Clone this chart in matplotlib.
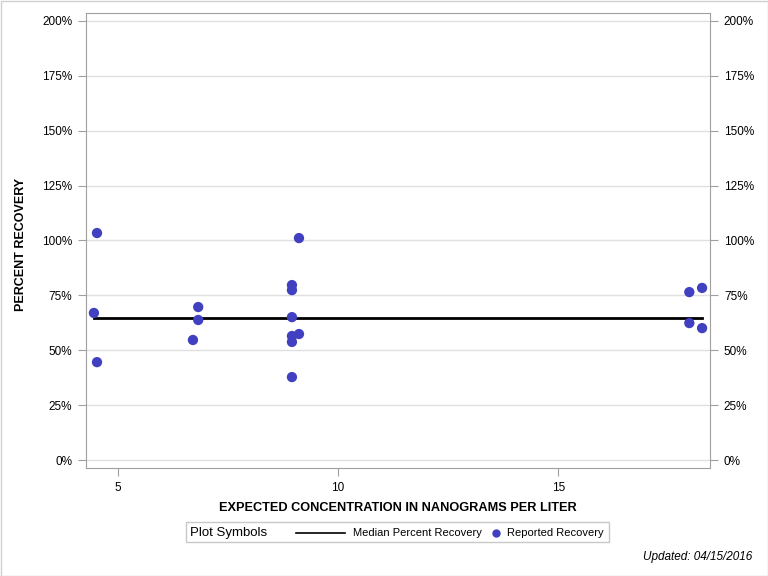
import matplotlib
matplotlib.use("Agg")
import matplotlib.pyplot as plt
from matplotlib.ticker import FuncFormatter, FixedLocator
from matplotlib.lines import Line2D
import matplotlib.patches as mpatches

# Data
conc = [4.45, 4.52, 4.52, 6.70, 6.82, 6.82, 8.95, 8.95, 8.95, 8.95, 8.95, 8.95,
        9.11, 9.11, 17.98, 18.27, 17.98, 18.27]
recovery = [67.0, 103.4, 44.6, 54.7, 69.7, 63.8, 79.7, 77.4, 65.1, 56.5, 53.8, 37.8,
            57.4, 101.1, 76.5, 78.4, 62.4, 60.1]
median_x = [4.45, 18.27]
median_y = [64.7, 64.7]
x_ticks = [5, 10, 15]
y_ticks = [0, 25, 50, 75, 100, 125, 150, 175, 200]

plt.rcParams['font.family'] = ['Liberation Sans', 'DejaVu Sans']

fig = plt.figure(figsize=(7.68, 5.76), dpi=100)
W, H = 768, 576
ax = fig.add_axes([86 / W, 1 - 468 / H, (710 - 86) / W, (468 - 13) / H])

ax.set_xlim(4.27, 18.45)
ax.set_ylim(-3.6, 203.6)

ax.yaxis.set_major_locator(FixedLocator(y_ticks))
ax.xaxis.set_major_locator(FixedLocator(x_ticks))
ax.yaxis.set_major_formatter(FuncFormatter(lambda v, p: f"{int(v)}%"))
ax.grid(axis='y', color='#e0e0e0', linewidth=1)
ax.set_axisbelow(True)

ax.plot(median_x, median_y, color='black', linewidth=2, zorder=2)
ax.scatter(conc, recovery, s=55, color='#4040c0', edgecolors='none', zorder=3)

for s in ax.spines.values():
    s.set_color('#a0a0a0')
ax.tick_params(axis='both', colors='#a0a0a0', labelcolor='black', labelsize=8.5, length=6, pad=4)
ax.tick_params(axis='y', right=True, labelright=True)

ax.set_xlabel("EXPECTED CONCENTRATION IN NANOGRAMS PER LITER", fontsize=9.2, fontweight='bold', labelpad=6)
ax.set_ylabel("PERCENT RECOVERY", fontsize=9.0, fontweight='bold')
ax.yaxis.set_label_coords(-0.0946, 0.492)

# Legend box
lx0, ly0, lx1, ly1 = 186, 522, 609, 542
fig.patches.append(mpatches.Rectangle((lx0 / W, 1 - ly1 / H), (lx1 - lx0) / W, (ly1 - ly0) / H,
                                      transform=fig.transFigure, fill=False,
                                      edgecolor='#c8c8c8', linewidth=1))
yc = 1 - 533 / H
fig.text(190 / W, yc, "Plot Symbols", fontsize=9.5, va='center', ha='left')
fig.lines.append(Line2D([296 / W, 345 / W], [yc, yc], transform=fig.transFigure, color='black', linewidth=1.2))
fig.text(353 / W, yc, "Median Percent Recovery", fontsize=8, va='center', ha='left')
fig.lines.append(Line2D([496 / W], [yc], transform=fig.transFigure, marker='o', markersize=5,
                        color='#4040c0', linestyle='none'))
fig.text(507 / W, yc, "Reported Recovery", fontsize=8, va='center', ha='left')

fig.text(752 / W, 1 - 557 / H, "Updated: 04/15/2016", fontsize=8.5, style='italic', ha='right', va='center')

# outer border
fig.patches.append(mpatches.Rectangle((0.5 / W, 0.5 / H), (W - 1) / W, (H - 1) / H,
                                      transform=fig.transFigure, fill=False,
                                      edgecolor='#d0d0d0', linewidth=1))

fig.savefig("out.png", dpi=100)
